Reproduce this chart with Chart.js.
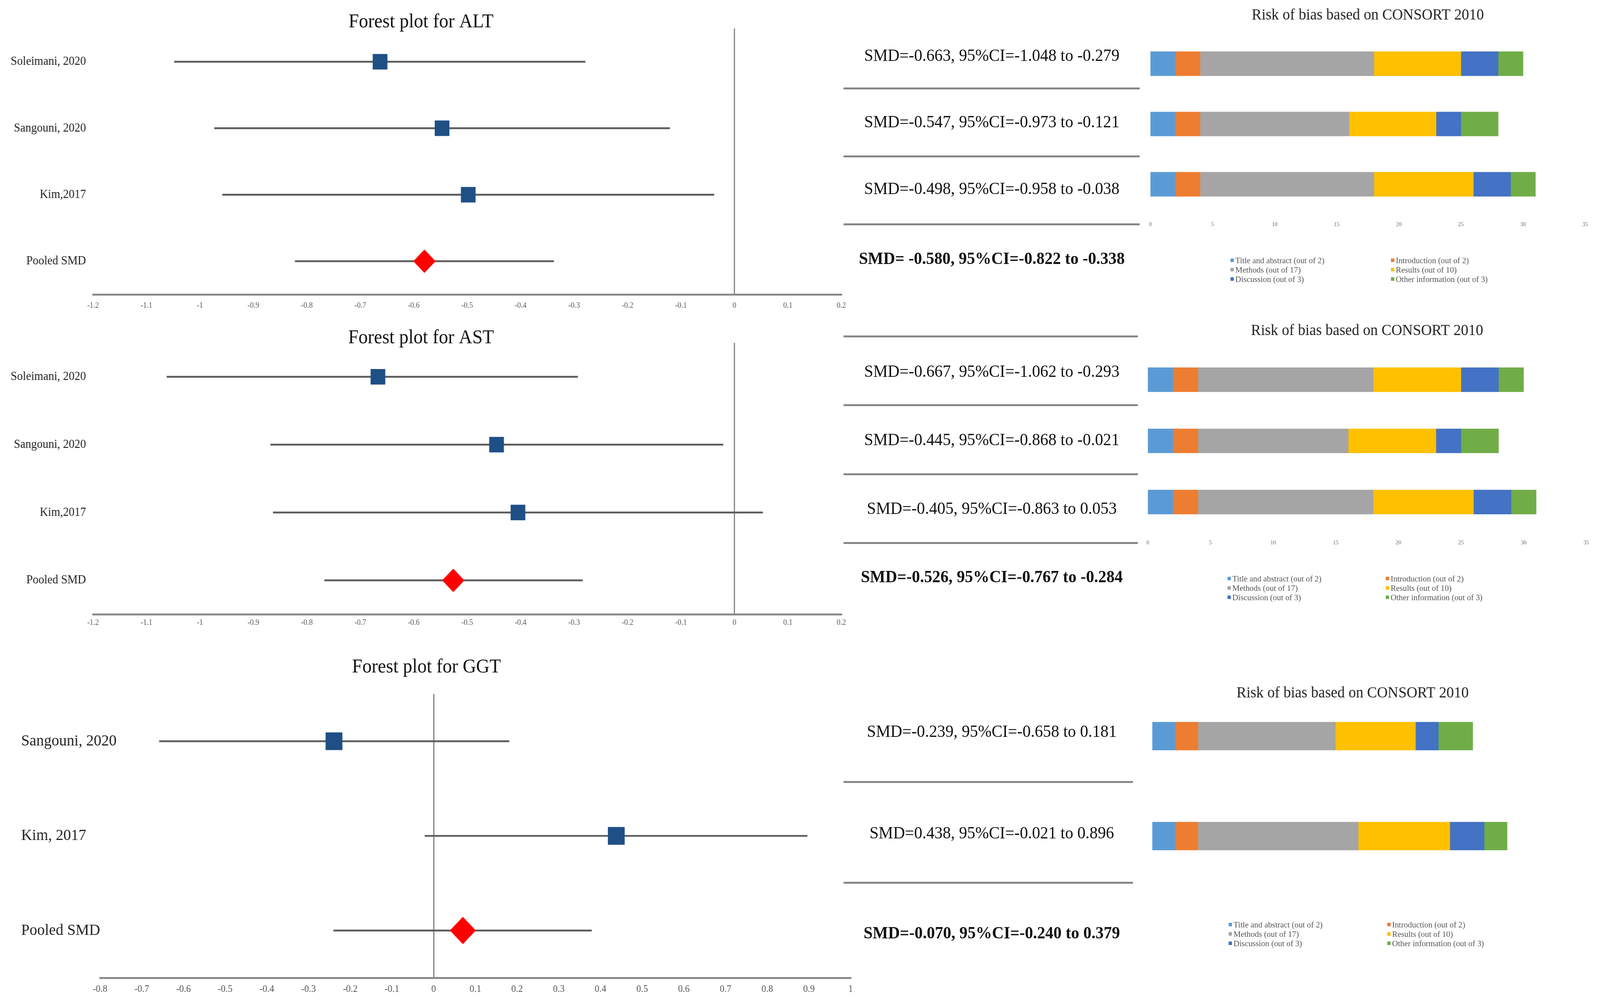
<!DOCTYPE html>
<html>
<head>
<meta charset="utf-8">
<script src="https://cdn.jsdelivr.net/npm/chart.js@4"></script>
<style>
  html, body { margin: 0; padding: 0; background: #fff; overflow: hidden; }
  #frame { position: relative; overflow: hidden; }
  #page { position: absolute; left: 0; top: 0; width: 4317px; height: 2571px; transform-origin: 0 0;
          font-family: 'Liberation Serif', 'Times New Roman', serif; }
  .box { position: absolute; }
  .smd { position: absolute; left: 2276px; width: 800px; text-align: center; font-size: 44px; line-height: 50px;
         color: #111; transform: translateY(-50%); white-space: nowrap; }
  .smd.bold { font-weight: bold; }
  .rule { position: absolute; height: 5px; background: #878787; }
  .legend { position: absolute; display: grid; font-size: 22px; line-height: 24px; color: #555; white-space: nowrap; }
  .legend i { display: inline-block; width: 9px; height: 9px; margin-right: 4px; vertical-align: middle; position: relative; top: -2px; }
</style>
</head>
<body>
<div id="frame">
<div id="page">
  <div class="box" style="left:0;top:0;width:2300px;height:810px"><canvas id="altForest"></canvas></div>
  <div class="box" style="left:0;top:800px;width:2300px;height:829px"><canvas id="astForest"></canvas></div>
  <div class="box" style="left:0;top:1640px;width:2330px;height:931px"><canvas id="ggtForest"></canvas></div>

  <div class="box" style="left:3080px;top:0;width:1237px;height:600px"><canvas id="altRisk"></canvas></div>
  <div class="box" style="left:3073px;top:800px;width:1244px;height:620px"><canvas id="astRisk"></canvas></div>
  <div class="box" style="left:3085px;top:1700px;width:1232px;height:620px"><canvas id="ggtRisk"></canvas></div>

  <div id="middle"></div>
</div>
</div>

<script>
// the window may come out narrower than 4317 (it is clamped), so stretch the 4317x2571 layout to fill it
const W = 4317, H = 2571;
const frame = document.getElementById('frame');
const page = document.getElementById('page');
const cw = document.documentElement.clientWidth, ch = document.documentElement.clientHeight;
const fx = cw / W, fy = ch / H;
frame.style.width = cw + 'px';
frame.style.height = ch + 'px';
page.style.transform = 'scale(' + fx + ',' + fy + ')';

// forest plot data
const altStudies = ['Soleimani, 2020', 'Sangouni, 2020', 'Kim,2017', 'Pooled SMD'];
const altSmd = [-0.663, -0.547, -0.498, -0.580];
const altLow = [-1.048, -0.973, -0.958, -0.822];
const altHigh = [-0.279, -0.121, -0.038, -0.338];

const astStudies = ['Soleimani, 2020', 'Sangouni, 2020', 'Kim,2017', 'Pooled SMD'];
const astSmd = [-0.667, -0.445, -0.405, -0.526];
const astLow = [-1.062, -0.868, -0.863, -0.767];
const astHigh = [-0.293, -0.021, 0.053, -0.284];

const ggtStudies = ['Sangouni, 2020', 'Kim, 2017', 'Pooled SMD'];
const ggtSmd = [-0.239, 0.438, 0.070];
const ggtLow = [-0.658, -0.021, -0.240];
const ggtHigh = [0.181, 0.896, 0.379];

// text next to each row
const altText = ['SMD=-0.663, 95%CI=-1.048 to -0.279', 'SMD=-0.547, 95%CI=-0.973 to -0.121', 'SMD=-0.498, 95%CI=-0.958 to -0.038', 'SMD= -0.580, 95%CI=-0.822 to -0.338'];
const astText = ['SMD=-0.667, 95%CI=-1.062 to -0.293', 'SMD=-0.445, 95%CI=-0.868 to -0.021', 'SMD=-0.405, 95%CI=-0.863 to 0.053', 'SMD=-0.526, 95%CI=-0.767 to -0.284'];
const ggtText = ['SMD=-0.239, 95%CI=-0.658 to 0.181', 'SMD=0.438, 95%CI=-0.021 to 0.896', 'SMD=-0.070, 95%CI=-0.240 to 0.379'];

// CONSORT 2010 scores
const riskStudies = ['Soleimani, 2020', 'Sangouni, 2020', 'Kim, 2017'];
const domains = ['Title and abstract (out of 2)', 'Introduction (out of 2)', 'Methods (out of 17)',
                 'Results (out of 10)', 'Discussion (out of 3)', 'Other information (out of 3)'];
const titleScores = [2, 2, 2];
const introScores = [2, 2, 2];
const methodsScores = [14, 12, 14];
const resultsScores = [7, 7, 8];
const discussionScores = [3, 2, 3];
const otherScores = [2, 3, 2];
const riskTicks = [0, 35];

const serif = "'Liberation Serif', 'Times New Roman', serif";
const domainColors = ['#5b9bd5', '#ed7d31', '#a5a5a5', '#ffc000', '#4472c4', '#70ad47'];
Chart.defaults.font.family = serif;

function forest(id, title, labels, smd, low, high, o) {
  const last = labels.length - 1;
  new Chart(document.getElementById(id), {
    type: 'bar',
    data: {
      labels: labels,
      datasets: [
        {
          type: 'line', indexAxis: 'y', data: smd, showLine: false, order: 0,
          pointStyle: smd.map((v, i) => i === last ? 'rectRot' : 'rect'),
          pointRadius: smd.map((v, i) => i === last ? o.diamond : o.square),
          pointBackgroundColor: smd.map((v, i) => i === last ? '#ff0000' : '#1e4f85'),
          pointBorderWidth: 0
        },
        { data: low.map((v, i) => [v, high[i]]), backgroundColor: '#5c5c5c', barThickness: 4, order: 1 }
      ]
    },
    options: {
      indexAxis: 'y', responsive: true, maintainAspectRatio: false, animation: false,
      layout: { padding: { left: 0, right: o.padR, top: 0, bottom: 0 } },
      plugins: {
        legend: { display: false }, tooltip: { enabled: false },
        title: { display: true, text: title, color: '#111', font: { size: 50, weight: 'normal' },
                 padding: { top: o.titleTop, bottom: o.titleBottom } }
      },
      scales: {
        x: {
          type: 'linear', min: o.min, max: o.max,
          ticks: { stepSize: 0.1, autoSkip: false, maxRotation: 0, color: '#555', font: { size: o.tickSize },
                   padding: o.tickPad, callback: v => String(Math.round(v * 10) / 10) },
          grid: { drawTicks: false, lineWidth: 3,
                  color: c => (c.tick && Math.abs(c.tick.value) < 1e-9) ? '#7a7a7a' : 'rgba(0,0,0,0)' },
          border: { display: true, color: '#8a8a8a', width: 5 },
          afterFit: s => { s.height = o.xH; }
        },
        y: {
          ticks: { color: '#222', font: { size: o.labelSize }, padding: o.labelPad, mirror: o.mirror },
          grid: { display: false, drawTicks: false }, border: { display: false },
          afterFit: s => { s.width = o.yW; }
        }
      }
    }
  });
}

forest('altForest', 'Forest plot for ALT', altStudies, altSmd, altLow, altHigh,
  { min: -1.2, max: 0.2, padR: 28, yW: 251, xH: 56, titleTop: 27, titleBottom: -14,
    tickSize: 20, tickPad: 17, labelSize: 31, labelPad: 19, mirror: false, square: 28, diamond: 30 });
forest('astForest', 'Forest plot for AST', astStudies, astSmd, astLow, astHigh,
  { min: -1.2, max: 0.2, padR: 28, yW: 251, xH: 56, titleTop: 36, titleBottom: -18,
    tickSize: 20, tickPad: 10, labelSize: 31, labelPad: 19, mirror: false, square: 28, diamond: 30 });
// GGT labels are left aligned and run past the axis start, so they are mirrored back to x=57
forest('ggtForest', 'Forest plot for GGT', ggtStudies, ggtSmd, ggtLow, ggtHigh,
  { min: -0.8, max: 1, padR: 29, yW: 270, xH: 67, titleTop: 39, titleBottom: 38,
    tickSize: 25, tickPad: 14, labelSize: 41, labelPad: -213, mirror: true, square: 32, diamond: 35 });

function risk(id, rows, o) {
  const series = [titleScores, introScores, methodsScores, resultsScores, discussionScores, otherScores];
  new Chart(document.getElementById(id), {
    type: 'bar',
    data: {
      labels: rows.map(i => riskStudies[i]),
      datasets: series.map((arr, d) => ({
        label: domains[d], data: rows.map(i => arr[i]), backgroundColor: domainColors[d], barThickness: o.bar
      }))
    },
    options: {
      indexAxis: 'y', responsive: true, maintainAspectRatio: false, animation: false,
      layout: { padding: { left: o.padL, right: o.padR, top: 0, bottom: 0 } },
      plugins: {
        legend: { display: false }, tooltip: { enabled: false },
        title: { display: true, text: 'Risk of bias based on CONSORT 2010', color: '#222',
                 font: { size: 40, weight: 'normal' }, padding: { top: o.titleTop, bottom: o.titleBottom } }
      },
      scales: {
        x: {
          stacked: true, min: riskTicks[0], max: riskTicks[1],
          ticks: { stepSize: 5, color: '#666', font: { size: 15 }, padding: o.tickPad },
          grid: { display: false, drawTicks: false }, border: { display: false },
          afterFit: s => { s.height = o.xH; }
        },
        y: { stacked: true, display: false }
      }
    }
  });
}

risk('altRisk', [0, 1, 2], { padL: 24, padR: 40, titleTop: 15, titleBottom: 23, xH: 51, tickPad: 17, bar: 62 });
risk('astRisk', [0, 1, 2], { padL: 24, padR: 37, titleTop: 23, titleBottom: 23, xH: 56, tickPad: 17, bar: 62 });
risk('ggtRisk', [1, 2], { padL: 24, padR: 127, titleTop: 51, titleBottom: -42, xH: 51, tickPad: -23, bar: 72 });

// middle column: SMD texts, separator rules, and the legends under each bar chart
const middle = document.getElementById('middle');
function addText(txt, y, bold) {
  const d = document.createElement('div');
  d.className = 'smd' + (bold ? ' bold' : '');
  d.style.top = y + 'px';
  d.textContent = txt;
  middle.appendChild(d);
}
function addRule(y, x1, x2) {
  const d = document.createElement('div');
  d.className = 'rule';
  d.style.top = (y - 2) + 'px';
  d.style.left = x1 + 'px';
  d.style.width = (x2 - x1) + 'px';
  middle.appendChild(d);
}
function addLegend(x, y, colGap) {
  const d = document.createElement('div');
  d.className = 'legend';
  d.style.left = x + 'px';
  d.style.top = (y - 12) + 'px';
  d.style.gridTemplateColumns = colGap + 'px auto';
  domains.forEach((name, i) => {
    const s = document.createElement('span');
    s.innerHTML = '<i style="background:' + domainColors[i] + '"></i>';
    s.appendChild(document.createTextNode(name));
    d.appendChild(s);
  });
  middle.appendChild(d);
}

[142, 312, 483, 662].forEach((y, i) => addText(altText[i], y, i === 3));
[226, 400, 574].forEach(y => addRule(y, 2276, 3075));
[951, 1126, 1302, 1477].forEach((y, i) => addText(astText[i], y, i === 3));
[861, 1037, 1214, 1390].forEach(y => addRule(y, 2276, 3070));
[1873, 2133, 2389].forEach((y, i) => addText(ggtText[i], y, i === 2));
[2002, 2260].forEach(y => addRule(y, 2276, 3057));

addLegend(3320, 667, 433);
addLegend(3312, 1482, 427);
addLegend(3315, 2368, 428);
</script>
</body>
</html>
